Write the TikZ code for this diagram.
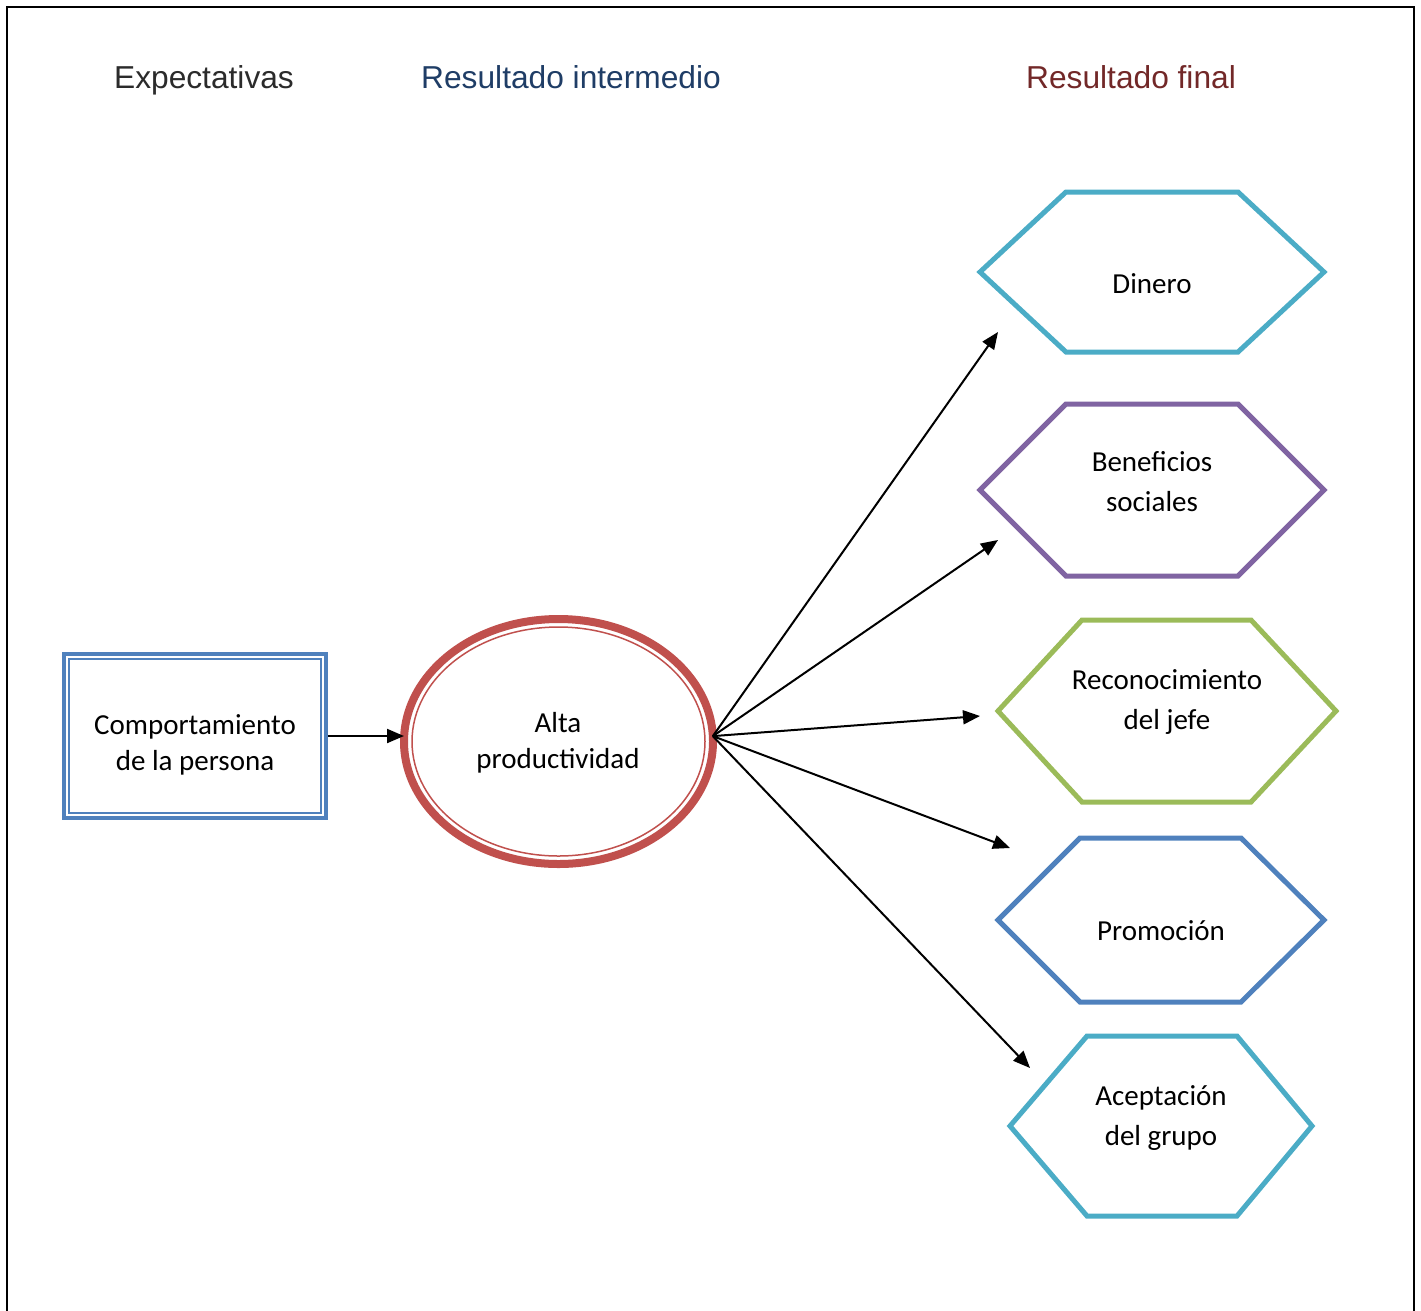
\documentclass[tikz,border=0pt]{standalone}
\usepackage{fontspec}
\setmainfont{Carlito}
\newfontfamily\titlefont{Liberation Sans}
\usetikzlibrary{arrows.meta,shapes.geometric,calc}
\definecolor{rectblue}{HTML}{4F81BD}
\definecolor{ellred}{HTML}{C0504D}
\definecolor{hexcyan}{HTML}{4BACC6}
\definecolor{hexpurple}{HTML}{8064A2}
\definecolor{hexgreen}{HTML}{9BBB59}
\definecolor{hexblue}{HTML}{4F81BD}
\definecolor{titlegray}{HTML}{2B2B2B}
\definecolor{titleblue}{HTML}{1F3D66}
\definecolor{titlered}{HTML}{722828}
\newcommand{\hexframe}[4]{%
  \draw[hexline,#4] (#1.west) -- ($(#1.north west)+(#2,0)$) -- ($(#1.north east)+(-#3,0)$) -- (#1.east) -- ($(#1.south east)+(-#3,0)$) -- ($(#1.south west)+(#2,0)$) -- cycle;}
\tikzset{
  titletext/.style={font={\titlefont\fontsize{31.7}{38}\selectfont}, anchor=base, inner sep=0},
  bodytext/.style={font={\fontsize{29}{36}\selectfont}, align=center, inner sep=0},
  bodywide/.style={font={\fontsize{29}{40}\selectfont}, align=center, inner sep=0},
  hexbox/.style={draw=none, inner sep=0, outer sep=0},
  hexline/.style={line width=5pt, line join=miter},
  conn/.style={line width=2pt, -{Triangle[length=17pt,width=14pt]}},
}
\begin{document}
\begin{tikzpicture}[x=1pt,y=-1pt]
\useasboundingbox (0,0) rectangle (1421,1310);
% frame
\draw[line width=2.5pt] (7,1315) -- (7,7) -- (1414,7) -- (1414,1315);

% titles
\node[titletext, text=titlegray] (t1) at (204,88) {Expectativas};
\node[titletext, text=titleblue] (t2) at (571,88) {Resultado intermedio};
\node[titletext, text=titlered] (t3) at (1131,88) {Resultado final};

% rectangle
\node[draw=rectblue, line width=4pt, minimum width=262pt, minimum height=164pt, inner sep=0] (comp) at (195,736) {};
\draw[rectblue, line width=1.2pt] ($(comp.north west)+(7,7)$) rectangle ($(comp.south east)+(-7,-7)$);
\node[bodytext] (comptxt) at (195,745) {Comportamiento\\de la persona};

% ellipse
\node[ellipse, draw=ellred, line width=8pt, minimum width=309pt, minimum height=245pt, inner sep=0, outer sep=0] (alta) at (558.5,741.5) {};
\draw[ellred, line width=1.5pt] (alta.center) ellipse [x radius=146.5pt, y radius=114.5pt];
\node[bodytext] (altatxt) at (558,743) {Alta\\productividad};

% hexagons
\node[hexbox, minimum width=344pt, minimum height=160pt] (h1) at (1152,272) {};
\node[hexbox, minimum width=344pt, minimum height=172pt] (h2) at (1152,490) {};
\node[hexbox, minimum width=338pt, minimum height=182pt] (h3) at (1167,711) {};
\node[hexbox, minimum width=326pt, minimum height=164pt] (h4) at (1161,920) {};
\node[hexbox, minimum width=302pt, minimum height=180pt] (h5) at (1161,1126) {};
\hexframe{h1}{86}{86}{hexcyan}
\hexframe{h2}{86}{86}{hexpurple}
\hexframe{h3}{84}{85}{hexgreen}
\hexframe{h4}{82}{83}{hexblue}
\hexframe{h5}{77}{75}{hexcyan}

\node[bodytext, anchor=base] (h1txt) at (1152,293) {Dinero};
\node[bodywide] (h2txt) at (1152,482) {Beneficios\\sociales};
\node[bodywide] (h3txt) at (1167,702) {Reconocimiento\\del jefe};
\node[bodytext, anchor=base] (h4txt) at (1161,940) {Promoción};
\node[bodywide] (h5txt) at (1161,1118) {Aceptación\\del grupo};

% arrow end points
\coordinate (e1) at (998,332);
\coordinate (e2) at (998,540);
\coordinate (e3) at (980,716);
\coordinate (e4) at (1010,848);
\coordinate (e5) at (1030,1068);
\coordinate (s) at (alta.2.2);

% connectors
\draw[conn] (comp.east) -- (comp.east -| alta.west);
\draw[conn] (s) -- (e1);
\draw[conn] (s) -- (e2);
\draw[conn] (s) -- (e3);
\draw[conn] (s) -- (e4);
\draw[conn] (s) -- (e5);
\end{tikzpicture}
\end{document}
